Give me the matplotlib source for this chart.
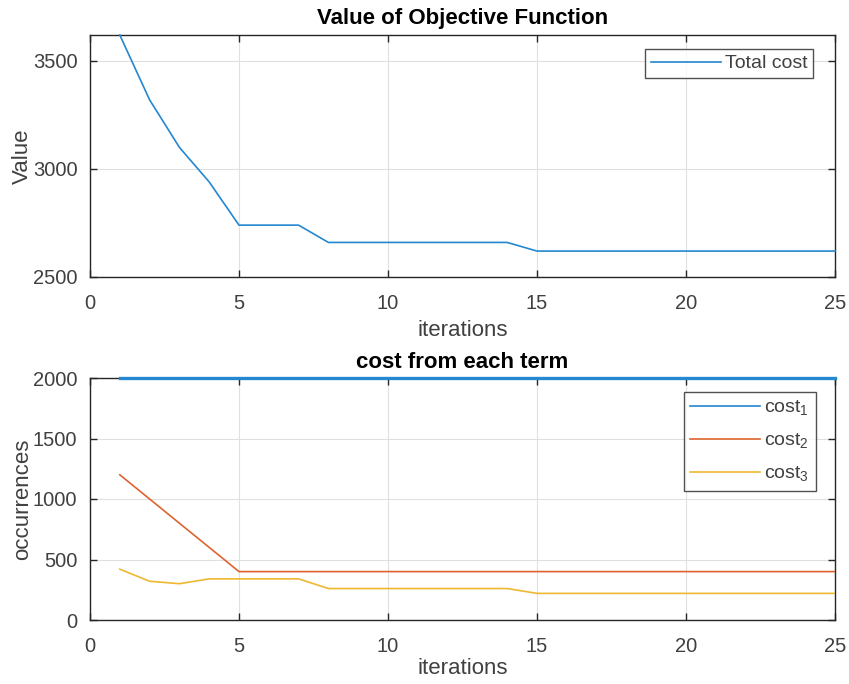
import matplotlib
matplotlib.use("Agg")
import matplotlib.pyplot as plt

plt.rcParams['font.family'] = ['Liberation Sans', 'DejaVu Sans']
plt.rcParams['mathtext.fontset'] = 'custom'
plt.rcParams['mathtext.rm'] = 'Liberation Sans'

iterations = list(range(1, 26))
total_cost = [3620, 3320, 3100, 2940, 2740, 2740, 2740, 2660, 2660, 2660, 2660, 2660, 2660, 2660,
              2620, 2620, 2620, 2620, 2620, 2620, 2620, 2620, 2620, 2620, 2620]
cost1 = [2000] * 25
cost2 = [1200, 1000, 800, 600, 400] + [400] * 20
cost3 = [420, 320, 300, 340, 340, 340, 340, 260, 260, 260, 260, 260, 260, 260,
         220, 220, 220, 220, 220, 220, 220, 220, 220, 220, 220]

C1, C2, C3 = '#2487d0', '#dd6430', '#eeb830'
AX = '#262626'
TX = '#404040'

fig = plt.figure(figsize=(8.49, 6.84), dpi=100)
ax1 = fig.add_axes([90/849, 1-277/684, 745/849, 242/684])
ax2 = fig.add_axes([90/849, 1-620/684, 745/849, 242/684])

FS = 14.5
LFS = 16

def style(ax, lpad):
    for s in ax.spines.values():
        s.set_color(AX)
        s.set_linewidth(1.0)
    ax.tick_params(direction='in', top=True, right=True, length=5, width=1,
                   colors=AX, labelsize=FS, labelcolor=TX)
    ax.tick_params(axis='x', pad=12)
    ax.tick_params(axis='y', pad=9)
    ax.grid(True, color='#e0e0e0', linewidth=0.8)
    ax.set_axisbelow(True)
    ax.set_xlim(0, 25)
    ax.set_xticks([0, 5, 10, 15, 20, 25])
    ax.set_xlabel('iterations', fontsize=LFS, color=TX, labelpad=lpad)

ax1.plot(iterations, total_cost, color=C1, lw=1.2, label='Total cost', clip_on=False, zorder=5)
style(ax1, 5)
ax1.set_ylim(2500, total_cost[0])
ax1.set_yticks([2500, 3000, 3500])
ax1.set_ylabel('Value', fontsize=LFS, color=TX, labelpad=0)
ax1.set_title('Value of Objective Function', fontsize=16, fontweight='bold', pad=8)
leg1 = ax1.legend(loc='upper right', bbox_to_anchor=(0.9705, 0.942), fontsize=14,
                  frameon=True, fancybox=False, edgecolor=AX, handlelength=3.6,
                  handletextpad=0.2, borderaxespad=0, borderpad=0.3)
leg1.get_frame().set_linewidth(1.0)
for t in leg1.get_texts():
    t.set_color(TX)

ax2.plot(iterations, cost1, color=C1, lw=2.4, label='cost$_1$', clip_on=False, zorder=5)
ax2.plot(iterations, cost2, color=C2, lw=1.2, label='cost$_2$', zorder=4)
ax2.plot(iterations, cost3, color=C3, lw=1.2, label='cost$_3$', zorder=4)
style(ax2, 2)
ax2.set_ylim(0, 2000)
ax2.set_yticks([0, 500, 1000, 1500, 2000])
ax2.set_ylabel('occurrences', fontsize=LFS, color=TX, labelpad=0)
ax2.set_title('cost from each term', fontsize=16, fontweight='bold', pad=7)
leg2 = ax2.legend(loc='upper right', bbox_to_anchor=(0.9745, 0.942), fontsize=14,
                  frameon=True, fancybox=False, edgecolor=AX, handlelength=3.6,
                  handletextpad=0.2, borderaxespad=0, borderpad=0.35, labelspacing=0.7)
leg2.get_frame().set_linewidth(1.0)
for h in leg2.get_lines():
    h.set_linewidth(1.2)
for t in leg2.get_texts():
    t.set_color(TX)

fig.savefig('out.png', dpi=100)
